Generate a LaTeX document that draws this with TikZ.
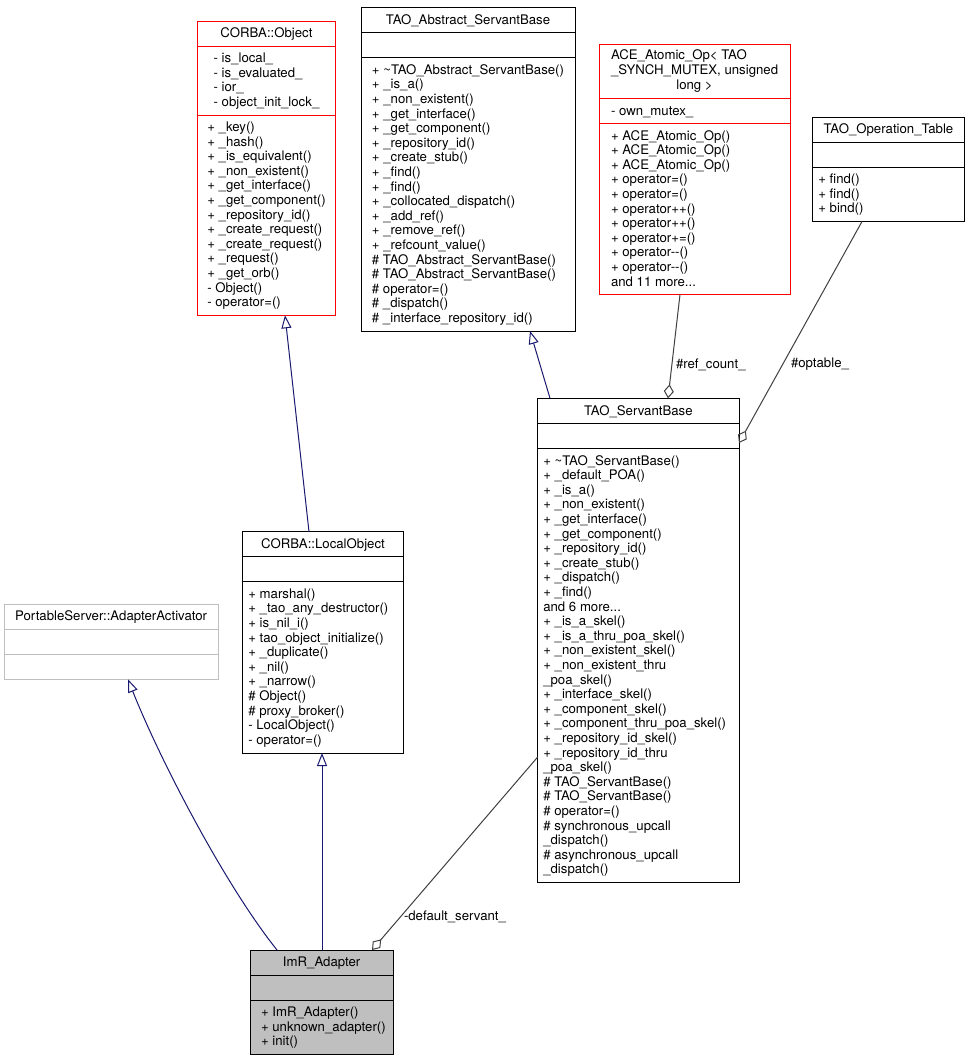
\documentclass[tikz,border=0pt]{standalone}
\usepackage{fontspec}
\setmainfont{TeX Gyre Heros}
\usetikzlibrary{arrows.meta}
\definecolor{navyline}{HTML}{191970}
\definecolor{dgrayline}{HTML}{404040}
\definecolor{lgray}{HTML}{BFBFBF}
\tikzset{
  box/.style={draw=black, line width=1pt, fill=white, rectangle, inner sep=0pt, outer sep=0pt},
  redbox/.style={box, draw=red},
  graybox/.style={box, draw=lgray},
  focusbox/.style={box, fill=lgray},
  txt/.style={inner sep=0pt, outer sep=0pt, align=left, execute at begin node=\strut},
  ttl/.style={inner sep=0pt, outer sep=0pt, align=center, execute at begin node=\strut},
  inh/.style={draw=navyline, line width=1pt, -{Triangle[open, length=13pt, width=10pt]}},
  comp/.style={draw=dgrayline, line width=1pt, -{Diamond[open, length=14pt, width=10pt]}},
  lbl/.style={inner sep=0pt, outer sep=0pt, anchor=west},
}
% #1 style, #2 name, #3 x, #4 y, #5 width, #6 #7 #8 section heights
\newcommand\umlbox[8]{%
  \node[#1, anchor=north west, minimum width=#5pt, minimum height={#6pt+#7pt+#8pt}] (#2) at (#3,#4) {};
  \draw[#1, fill=none] ([yshift=-#6pt]#2.north west) -- ([yshift=-#6pt]#2.north east);
  \draw[#1, fill=none] ([yshift={-(#6pt+#7pt)}]#2.north west) -- ([yshift={-(#6pt+#7pt)}]#2.north east);
  \coordinate (#2-s1) at (#2.north);
  \coordinate (#2-s2) at ([yshift=-#6pt]#2.north);
  \coordinate (#2-s3) at ([yshift={-(#6pt+#7pt)}]#2.north);
}
\begin{document}
\begin{tikzpicture}[x=1pt, y=-1pt, font=\fontsize{13.2}{14.6}\selectfont]
\fill[white] (0,0) rectangle (969,1061);
\useasboundingbox (0,0) rectangle (969,1061);

% ---- boxes
\umlbox{redbox}{obj}{197.5}{21}{138}{25.1}{68.9}{200.3}
\umlbox{box}{asb}{361}{7.5}{214}{25.1}{25.1}{273.3}
\umlbox{redbox}{ace}{599}{44}{191}{54.3}{25.1}{171.1}
\umlbox{box}{opt}{812.7}{117}{151.5}{25.1}{25.1}{54.3}
\umlbox{box}{sb}{537.7}{398.3}{201.3}{25.1}{25.1}{433.9}
\umlbox{box}{lo}{242.7}{531.7}{160.6}{25.1}{25.1}{171.1}
\umlbox{graybox}{aa}{4}{604}{214.3}{25.1}{25.1}{25.1}
\umlbox{focusbox}{imr}{250}{950}{143.3}{25.1}{25.1}{54.3}

% ---- CORBA::Object
\node[ttl, anchor=north] (objT) at ([yshift=-6.5pt]obj-s1) {CORBA::Object};
\node[txt, anchor=north] (objA) at ([yshift=-6.8pt]obj-s2) {- is\_local\_\\- is\_evaluated\_\\- ior\_\\- object\_init\_lock\_};
\node[txt, anchor=north] (objM) at ([yshift=-6.8pt]obj-s3) {+ \_key()\\+ \_hash()\\+ \_is\_equivalent()\\+ \_non\_existent()\\+ \_get\_interface()\\+ \_get\_component()\\+ \_repository\_id()\\+ \_create\_request()\\+ \_create\_request()\\+ \_request()\\+ \_get\_orb()\\- Object()\\- operator=()};

% ---- TAO_Abstract_ServantBase
\node[ttl, anchor=north] (asbT) at ([yshift=-6.5pt]asb-s1) {TAO\_Abstract\_ServantBase};
\node[txt, anchor=north] (asbM) at ([yshift=-6.8pt]asb-s3) {+ \textasciitilde TAO\_Abstract\_ServantBase()\\+ \_is\_a()\\+ \_non\_existent()\\+ \_get\_interface()\\+ \_get\_component()\\+ \_repository\_id()\\+ \_create\_stub()\\+ \_find()\\+ \_find()\\+ \_collocated\_dispatch()\\+ \_add\_ref()\\+ \_remove\_ref()\\+ \_refcount\_value()\\\# TAO\_Abstract\_ServantBase()\\\# TAO\_Abstract\_ServantBase()\\\# operator=()\\\# \_dispatch()\\\# \_interface\_repository\_id()};

% ---- ACE_Atomic_Op
\node[txt, anchor=north west] (aceT) at ([xshift=12pt, yshift=-6pt]ace.north west) {ACE\_Atomic\_Op< TAO\\\_SYNCH\_MUTEX, unsigned};
\node[ttl, anchor=north] (aceT3) at ([yshift=-35.2pt]ace-s1) {long >};
\node[txt, anchor=north west] (aceA) at ([xshift=12pt, yshift=-6.8pt]ace-s2 -| ace.west) {- own\_mutex\_};
\node[txt, anchor=north west] (aceM) at ([xshift=12pt, yshift=-6.8pt]ace-s3 -| ace.west) {+ ACE\_Atomic\_Op()\\+ ACE\_Atomic\_Op()\\+ ACE\_Atomic\_Op()\\+ operator=()\\+ operator=()\\+ operator++()\\+ operator++()\\+ operator+=()\\+ operator{-}{-}()\\+ operator{-}{-}()\\and 11 more...};

% ---- TAO_Operation_Table
\node[ttl, anchor=north] (optT) at ([yshift=-6.5pt]opt-s1) {TAO\_Operation\_Table};
\node[txt, anchor=north west] (optM) at ([xshift=5.6pt, yshift=-6.8pt]opt-s3 -| opt.west) {+ find()\\+ find()\\+ bind()};

% ---- TAO_ServantBase
\node[ttl, anchor=north] (sbT) at ([yshift=-6.5pt]sb-s1) {TAO\_ServantBase};
\node[txt, anchor=north west] (sbM) at ([xshift=5.6pt, yshift=-6.8pt]sb-s3 -| sb.west) {+ \textasciitilde TAO\_ServantBase()\\+ \_default\_POA()\\+ \_is\_a()\\+ \_non\_existent()\\+ \_get\_interface()\\+ \_get\_component()\\+ \_repository\_id()\\+ \_create\_stub()\\+ \_dispatch()\\+ \_find()\\and 6 more...\\+ \_is\_a\_skel()\\+ \_is\_a\_thru\_poa\_skel()\\+ \_non\_existent\_skel()\\+ \_non\_existent\_thru\\\_poa\_skel()\\+ \_interface\_skel()\\+ \_component\_skel()\\+ \_component\_thru\_poa\_skel()\\+ \_repository\_id\_skel()\\+ \_repository\_id\_thru\\\_poa\_skel()\\\# TAO\_ServantBase()\\\# TAO\_ServantBase()\\\# operator=()\\\# synchronous\_upcall\\\_dispatch()\\\# asynchronous\_upcall\\\_dispatch()};

% ---- CORBA::LocalObject
\node[ttl, anchor=north] (loT) at ([yshift=-6.5pt]lo-s1) {CORBA::LocalObject};
\node[txt, anchor=north west] (loM) at ([xshift=5.6pt, yshift=-6.8pt]lo-s3 -| lo.west) {+ marshal()\\+ \_tao\_any\_destructor()\\+ is\_nil\_i()\\+ tao\_object\_initialize()\\+ \_duplicate()\\+ \_nil()\\+ \_narrow()\\\# Object()\\\# proxy\_broker()\\- LocalObject()\\- operator=()};

% ---- PortableServer::AdapterActivator
\node[ttl, anchor=north] (aaT) at ([yshift=-6.5pt]aa-s1) {PortableServer::AdapterActivator};

% ---- ImR_Adapter
\node[ttl, anchor=north] (imrT) at ([yshift=-6.5pt]imr-s1) {ImR\_Adapter};
\node[txt, anchor=north west] (imrM) at ([xshift=11pt, yshift=-6.8pt]imr-s3 -| imr.west) {+ ImR\_Adapter()\\+ unknown\_adapter()\\+ init()};

% ---- inheritance
\draw[inh] ([xshift=66.3pt]lo.north west) -- ([xshift=87.5pt]obj.south west);
\draw[inh] ([xshift=12.3pt]sb.north west) -- ([xshift=169pt]asb.south west);
\draw[inh] ([xshift=72pt]imr.north west) -- ([xshift=79.3pt]lo.south west);
\draw[inh] ([xshift=27pt]imr.north west) .. controls (225,885) and (160,760) .. ([xshift=124pt]aa.south west);

% ---- composition
\draw[comp] ([yshift=-358.7pt]sb.north west) -- ([xshift=122pt]imr.north west);
\draw[comp] ([xshift=81pt]ace.south west) -- ([xshift=130.3pt]sb.north west);
\draw[comp] ([xshift=49.3pt]opt.south west) -- ([yshift=-44.7pt]sb.north east);

% ---- labels
\node[lbl] (lref) at (676,365) {\#ref\_count\_};
\node[lbl] (lopt) at (791,364) {\#optable\_};
\node[lbl] (ldef) at (404,917) {-default\_servant\_};
\end{tikzpicture}
\end{document}
